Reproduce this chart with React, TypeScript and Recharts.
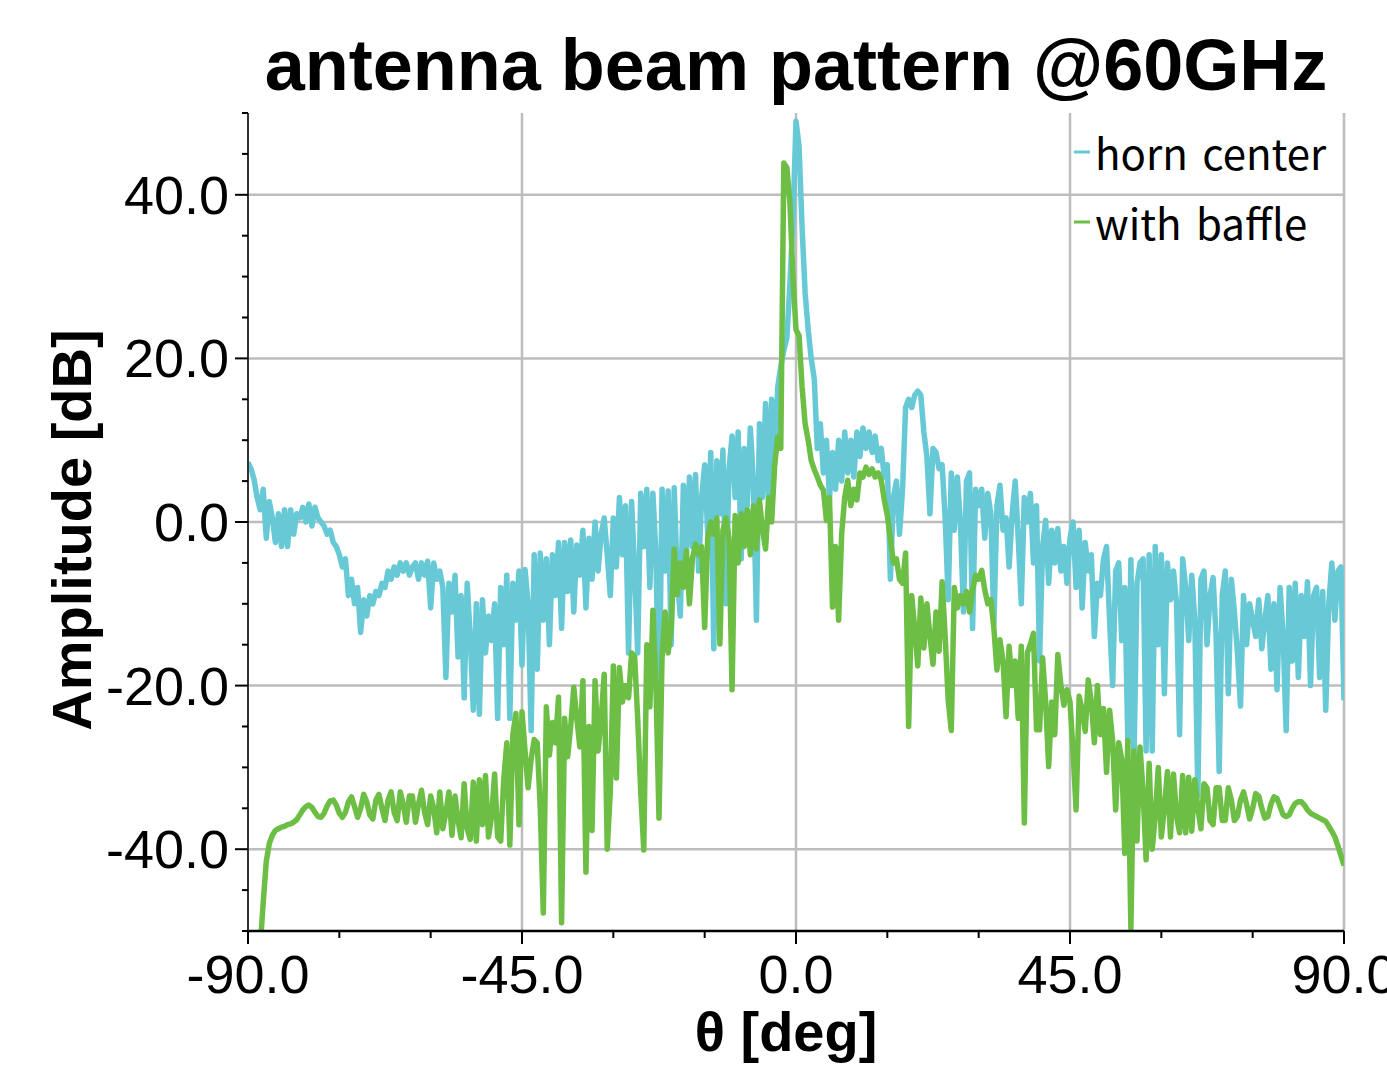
import { LineChart, Line, XAxis, YAxis, ReferenceLine, Legend } from 'recharts'

const THETA_START = -90
const THETA_STEP = 0.5

// amplitude [dB], one value every 0.5 deg from -90 to +90
const hornCenter = [
  7.3, 6.5, 5.2, 3.0, 1.5, 4.0, -2.0, 2.5, 0.5, -2.5, // -90
  1.0, -3.0, 1.5, -3.0, 1.5, -1.5, 1.0, 0.5, 1.8, 0.0, // -85
  2.2, -0.5, 1.8, 0.5, 0.0, -0.5, -1.5, -1.0, -2.5, -3.0, // -80
  -4.0, -5.5, -4.5, -9.0, -7.0, -10.0, -8.0, -13.5, -9.5, -11.5, // -75
  -9.0, -10.0, -8.5, -9.0, -7.5, -8.0, -6.0, -7.0, -5.5, -6.5, // -70
  -5.0, -6.0, -5.0, -6.5, -5.5, -5.0, -7.0, -5.0, -6.5, -4.8, // -65
  -10.5, -5.0, -7.0, -6.0, -8.0, -19.0, -7.5, -11.0, -6.5, -16.5, // -60
  -9.0, -21.5, -7.5, -14.0, -23.0, -10.0, -23.5, -9.5, -16.0, -11.5, // -55
  -14.5, -10.0, -24.0, -8.0, -15.0, -6.5, -24.0, -7.5, -12.0, -6.0, // -50
  -17.5, -5.8, -10.0, -25.5, -4.0, -18.0, -3.8, -12.0, -4.5, -15.0, // -45
  -4.0, -9.0, -2.5, -13.0, -2.5, -8.5, -2.2, -11.0, -2.8, -6.5, // -40
  -1.0, -10.5, -2.0, -7.0, 0.0, -6.0, -1.5, 0.5, -4.0, -9.0, // -35
  0.5, -5.5, 3.0, -4.0, 2.0, -16.0, 2.5, -6.0, -16.0, 3.5, // -30
  -3.0, 4.0, -8.0, 3.5, -4.0, -24.5, 4.0, -6.0, 3.8, -15.0, // -25
  4.2, -7.0, -11.5, 4.5, -4.0, 5.5, -3.0, 5.8, -6.0, 3.0, // -20
  7.0, -1.5, 8.5, -15.5, 7.5, 1.0, 8.8, -10.0, 6.5, 10.5, // -15
  3.0, 11.0, -4.5, 9.0, 2.0, 11.5, 5.0, -12.0, 12.0, 3.0, // -10
  14.5, 2.5, 15.0, 7.0, 16.5, 19.0, 21.0, 22.5, 29.0, 37.0, // -5
  49.0, 46.0, 36.0, 28.0, 23.5, 20.0, 17.5, 9.0, 12.0, 6.0, // 0
  10.0, 3.0, 8.5, 4.0, 10.0, 5.0, 11.0, 6.0, 10.0, 5.5, // 5
  11.0, 8.0, 11.5, 9.0, 11.0, 8.5, 10.5, 7.5, 9.0, 5.5, // 10
  7.0, -7.0, 3.0, 5.0, -1.5, 4.0, 14.0, 15.0, 14.0, 15.5, // 15
  16.0, 15.5, 11.0, 8.0, 1.0, 9.0, 8.5, 6.5, 7.0, 0.5, // 20
  -9.5, 6.0, -1.0, 5.5, 0.0, -11.0, 5.0, 6.0, -13.0, 4.0, // 25
  2.0, 4.0, -2.0, 3.5, 1.0, -12.5, 2.0, 4.5, -1.0, 0.5, // 30
  -5.5, 1.0, 5.0, -2.0, -10.0, 3.0, 0.0, 3.5, -5.0, 2.0, // 35
  -17.0, -3.0, 0.2, -7.5, -1.0, -5.0, -0.8, -6.0, -3.0, -7.5, // 40
  -2.0, 0.0, -8.0, -1.0, -10.5, -2.5, -6.0, -4.0, -14.0, -7.5, // 45
  -9.0, -4.5, -3.0, -12.0, -20.0, -6.0, -5.0, -14.5, -8.0, -27.0, // 50
  -4.6, -29.5, -7.5, -5.0, -4.5, -28.0, -4.0, -28.0, -3.0, -15.0, // 55
  -4.0, -21.0, -5.0, -9.5, -6.0, -10.0, -26.0, -4.5, -8.0, -14.5, // 60
  -6.5, -12.0, -33.5, -7.0, -6.0, -15.0, -9.0, -6.8, -14.0, -30.5, // 65
  -9.0, -6.0, -21.0, -7.0, -11.0, -16.0, -22.5, -9.0, -15.0, -10.0, // 70
  -12.0, -14.0, -9.5, -15.5, -12.0, -9.0, -18.0, -10.0, -20.5, -8.0, // 75
  -14.0, -25.5, -8.0, -17.0, -7.5, -19.0, -9.0, -14.0, -7.3, -20.0, // 80
  -9.0, -8.0, -19.0, -8.5, -23.0, -10.0, -5.0, -12.0, -6.0, -5.5, // 85
  -21.8, // 90
]

const withBaffle = [
  -70.0, -66.0, -62.0, -57.0, -52.0, -46.5, -41.5, -39.3, -38.3, -37.7, // -90
  -37.5, -37.3, -37.2, -37.0, -36.9, -36.7, -36.4, -35.8, -35.2, -34.8, // -85
  -34.6, -34.9, -35.5, -36.0, -36.1, -35.6, -34.7, -34.1, -34.0, -34.6, // -80
  -35.6, -36.1, -35.5, -34.2, -33.6, -34.8, -36.1, -35.0, -33.3, -34.2, // -75
  -35.8, -36.3, -34.0, -33.3, -35.0, -36.5, -34.0, -33.0, -35.5, -36.5, // -70
  -33.0, -34.5, -36.7, -33.5, -33.5, -36.7, -34.5, -32.8, -35.5, -37.0, // -65
  -33.5, -35.0, -38.0, -33.0, -37.5, -35.5, -33.0, -38.3, -33.5, -36.5, // -60
  -38.6, -32.0, -37.5, -38.8, -31.8, -39.0, -31.5, -37.0, -31.0, -38.5, // -55
  -36.0, -30.8, -38.5, -39.0, -31.5, -27.0, -39.5, -26.0, -23.4, -37.0, // -50
  -23.2, -28.0, -32.5, -29.0, -26.6, -27.0, -35.0, -47.8, -22.6, -28.5, // -45
  -24.5, -27.0, -21.4, -49.0, -24.0, -28.7, -25.0, -20.2, -24.0, -27.5, // -40
  -19.4, -42.8, -25.0, -37.7, -19.4, -28.0, -24.0, -18.6, -40.0, -33.0, // -35
  -17.6, -31.3, -17.8, -22.0, -20.0, -21.5, -16.0, -16.5, -24.0, -33.0, // -30
  -40.1, -15.0, -22.6, -10.8, -20.0, -36.2, -16.5, -11.0, -16.0, -13.0, // -25
  -3.3, -8.9, -5.0, -8.0, -3.5, -10.0, -4.4, -2.7, -4.0, -3.0, // -20
  -12.9, -2.0, 0.0, -1.5, 0.5, -14.9, -1.0, 0.5, -2.0, -20.5, // -15
  0.8, -5.0, 1.0, -3.0, 1.5, -4.0, 2.0, -3.3, 2.7, -1.0, // -10
  -3.3, 3.0, 0.0, 7.0, 10.4, 9.0, 43.9, 43.3, 39.0, 30.0, // -5
  23.5, 22.8, 16.5, 12.0, 10.0, 7.5, 6.4, 5.5, 4.5, 3.9, // 0
  0.2, 3.0, -10.4, -3.0, -12.0, -1.5, 3.0, 5.1, 2.0, 4.0, // 5
  2.7, 6.0, 5.5, 6.7, 5.8, 6.5, 5.5, 6.0, 5.1, 2.7, // 10
  0.8, -2.0, -5.0, -4.5, -7.0, -7.5, -3.8, -25.0, -9.0, -13.0, // 15
  -17.6, -9.3, -15.4, -10.0, -14.0, -17.4, -11.0, -15.8, -7.3, -14.0, // 20
  -21.8, -25.5, -8.0, -10.5, -9.0, -10.0, -8.5, -11.0, -8.3, -6.5, // 25
  -7.0, -5.9, -8.3, -10.0, -9.5, -13.0, -18.1, -14.4, -17.0, -23.8, // 30
  -15.2, -20.0, -17.0, -24.0, -15.2, -36.8, -16.0, -14.9, -13.6, -25.4, // 35
  -25.4, -16.6, -22.0, -29.9, -22.0, -26.0, -16.2, -19.9, -22.4, -20.5, // 40
  -22.0, -28.0, -35.2, -21.3, -23.0, -25.6, -19.3, -22.0, -27.0, -20.0, // 45
  -26.0, -22.8, -30.6, -23.0, -26.7, -35.2, -27.0, -29.0, -40.5, -26.7, // 50
  -49.7, -28.0, -39.0, -27.5, -33.0, -41.3, -29.5, -40.0, -36.0, -30.0, // 55
  -38.5, -35.0, -30.5, -38.5, -30.8, -36.0, -38.0, -31.0, -38.0, -31.2, // 60
  -37.8, -31.5, -35.0, -37.5, -32.0, -32.5, -36.5, -37.0, -32.5, -32.5, // 65
  -36.5, -36.5, -32.5, -34.0, -36.5, -36.0, -34.0, -33.0, -34.5, -36.3, // 70
  -35.0, -33.2, -33.5, -35.0, -36.2, -36.0, -34.5, -33.6, -33.8, -34.8, // 75
  -35.8, -36.0, -35.8, -35.0, -34.4, -34.2, -34.2, -34.6, -35.2, -35.6, // 80
  -35.8, -36.0, -36.2, -36.4, -36.6, -37.2, -37.8, -38.5, -39.6, -40.8, // 85
  -42.0, // 90
]

const xTicks = [-90, -75, -60, -45, -30, -15, 0, 15, 30, 45, 60, 75, 90]
const xMajor = [-90, -45, 0, 45, 90]
const yTicks = [-50, -45, -40, -35, -30, -25, -20, -15, -10, -5, 0, 5, 10, 15, 20, 25, 30, 35, 40, 45, 50]
const yMajor = [-40, -20, 0, 20, 40]
const xGrid = [-45, 0, 45, 90]
const yGrid = [-40, -20, 0, 20, 40]

const series = [
  { key: 'horn', name: 'horn center', color: '#66C9D5' },
  { key: 'baffle', name: 'with baffle', color: '#6DBE45' },
]

const data = hornCenter.map((v, i) => ({
  theta: THETA_START + i * THETA_STEP,
  horn: v,
  baffle: withBaffle[i],
}))

const FONT = "'Liberation Sans', Arial, Helvetica, sans-serif"

function XTick({ x, y, payload }: any) {
  const v = payload.value
  const major = xMajor.includes(v)
  return (
    <g>
      <line x1={x} x2={x} y1={y} y2={y + (major ? 13 : 7)} stroke="#000" strokeWidth={2} />
      {major && (
        <text x={x} y={y + 62} textAnchor="middle" fontSize={54} fontFamily={FONT} fill="#000">
          {v.toFixed(1)}
        </text>
      )}
    </g>
  )
}

function YTick({ x, y, payload }: any) {
  const v = payload.value
  const major = yMajor.includes(v)
  return (
    <g>
      <line x1={x - (major ? 13 : 6)} x2={x} y1={y} y2={y} stroke="#000" strokeWidth={2} />
      {major && (
        <text x={x - 19} y={y + 19} textAnchor="end" fontSize={54} fontFamily={FONT} fill="#000">
          {v.toFixed(1)}
        </text>
      )}
    </g>
  )
}

function LegendBox() {
  return (
    <svg width={300} height={130} style={{ display: 'block', overflow: 'visible' }}>
      {series.map((s, i) => (
        <g key={s.key}>
          <line x1={14} x2={30} y1={27 + i * 70} y2={27 + i * 70} stroke={s.color} strokeWidth={3} />
          <text
            x={35}
            y={45 + i * 70}
            fontSize={42}
            wordSpacing={5}
            fontFamily="'Noto Sans CJK JP', 'Noto Sans', sans-serif"
            fill="#000"
          >
            {s.name}
          </text>
        </g>
      ))}
    </svg>
  )
}

export default function App() {
  return (
    <div style={{ position: 'fixed', left: 0, top: 0, width: 1387, height: 1073, background: '#fff', overflow: 'hidden' }}>
      <LineChart
        width={1387}
        height={1073}
        data={data}
        margin={{ top: 113, right: 43, bottom: 82, left: 128 }}
      >
        {xGrid.map((v) => (
          <ReferenceLine key={'x' + v} x={v} stroke="#bdbdbd" strokeWidth={2.5} />
        ))}
        {yGrid.map((v) => (
          <ReferenceLine key={'y' + v} y={v} stroke="#bdbdbd" strokeWidth={2.5} />
        ))}
        <XAxis
          dataKey="theta"
          type="number"
          domain={[-90, 90]}
          ticks={xTicks}
          interval={0}
          allowDataOverflow
          height={60}
          tickSize={0}
          tickMargin={0}
          tickLine={false}
          axisLine={{ stroke: '#000', strokeWidth: 2.5 }}
          tick={<XTick />}
        />
        <YAxis
          type="number"
          domain={[-50, 50]}
          ticks={yTicks}
          interval={0}
          allowDataOverflow
          width={120}
          tickSize={0}
          tickMargin={0}
          tickLine={false}
          axisLine={{ stroke: '#333', strokeWidth: 2 }}
          tick={<YTick />}
        />
        {series.map((s) => (
          <Line
            key={s.key}
            dataKey={s.key}
            name={s.name}
            type="linear"
            stroke={s.color}
            strokeWidth={5.5}
            strokeLinejoin="round"
            dot={false}
            activeDot={false}
            isAnimationActive={false}
          />
        ))}
        <Legend
          layout="vertical"
          align="center"
          verticalAlign="middle"
          content={() => <LegendBox />}
          wrapperStyle={{ left: 1060, top: 125 }}
        />
      </LineChart>
      <svg
        width={1387}
        height={1073}
        style={{ position: 'absolute', left: 0, top: 0, pointerEvents: 'none' }}
      >
        <text x={796} y={90} textAnchor="middle" fontSize={72} fontWeight="bold" fontFamily={FONT} fill="#000">
          antenna beam pattern @60GHz
        </text>
        <text
          x={91}
          y={530}
          transform="rotate(-90 91 530)"
          textAnchor="middle"
          fontSize={56}
          fontWeight="bold"
          fontFamily={FONT}
          fill="#000"
        >
          Amplitude [dB]
        </text>
        <text x={786} y={1051} textAnchor="middle" fontSize={56} fontWeight="bold" fontFamily={FONT} fill="#000">
          θ [deg]
        </text>
      </svg>
    </div>
  )
}
